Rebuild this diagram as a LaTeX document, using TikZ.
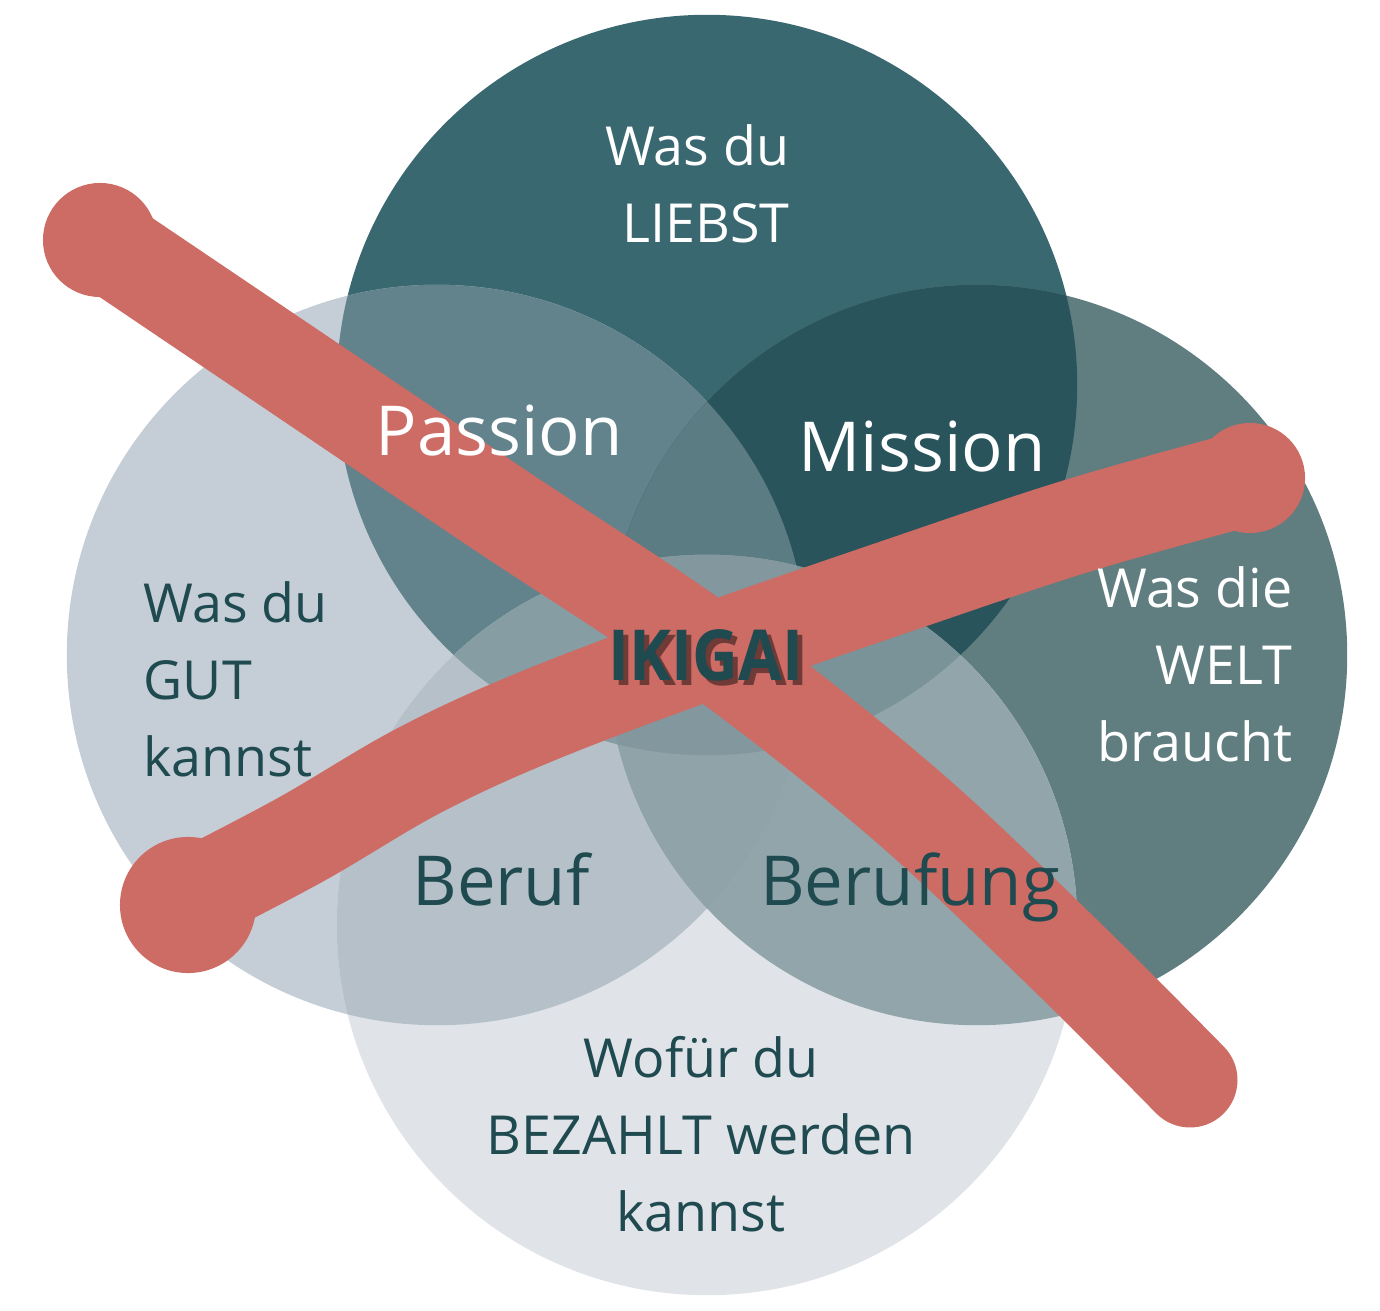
\documentclass[tikz,border=0pt]{standalone}
\usepackage{fontspec}
\setmainfont{Open Sans}
\usepackage{tikz}
\definecolor{textdark}{HTML}{1F4A50}
\definecolor{brushred}{HTML}{CD6B65}
\definecolor{colT}{HTML}{3A6870}
\definecolor{colL}{HTML}{C5CED6}
\definecolor{colR}{HTML}{607E80}
\definecolor{colB}{HTML}{E0E3E8}
\definecolor{colTL}{HTML}{62838C}
\definecolor{colTR}{HTML}{2A545C}
\definecolor{colLB}{HTML}{B5C0C8}
\definecolor{colRB}{HTML}{91A5AA}
\definecolor{colTLR}{HTML}{5A7C82}
\definecolor{colTLB}{HTML}{869DA4}
\definecolor{colTRB}{HTML}{7A9398}
\definecolor{colLRB}{HTML}{8FA3A8}
\definecolor{colAll}{HTML}{82989E}
\tikzstyle{lbl}=[inner sep=0pt, font=\fontsize{15.3}{21.9}\selectfont]
\tikzstyle{darklbl}=[lbl, text=textdark]
\tikzstyle{lightlbl}=[lbl, text=white]
\tikzstyle{bigdark}=[inner sep=0pt, text=textdark, font=\fontsize{19.6}{24}\selectfont]
\tikzstyle{biglight}=[bigdark, text=white]
\tikzstyle{heading}=[inner sep=0pt, anchor=base, xscale=0.9, transform shape, font=\fontsize{20}{24}\selectfont\bfseries]
\tikzstyle{brush}=[draw=brushred, line width=27pt, line cap=round, line join=round]
\newcommand{\circT}{(707,385) circle[radius=3.7cm]}
\newcommand{\circL}{(437,655) circle[radius=3.7cm]}
\newcommand{\circR}{(977,655) circle[radius=3.7cm]}
\newcommand{\circB}{(707,925) circle[radius=3.7cm]}

\begin{document}
\begin{tikzpicture}[x=0.01cm, y=-0.01cm]
        \useasboundingbox (0,0) rectangle (1380,1310);
        % circles
        \fill[colT] \circT;
        \fill[colL] \circL;
        \fill[colR] \circR;
        \fill[colB] \circB;
        \begin{scope}
            \clip \circT;
            \fill[colTL] \circL;
            \fill[colTR] \circR;
        \end{scope}
        \begin{scope}
            \clip \circB;
            \fill[colLB] \circL;
            \fill[colRB] \circR;
        \end{scope}
        \begin{scope}
            \clip \circT; \clip \circL;
            \fill[colTLR] \circR;
            \fill[colTLB] \circB;
        \end{scope}
        \begin{scope}
            \clip \circT; \clip \circR;
            \fill[colTRB] \circB;
        \end{scope}
        \begin{scope}
            \clip \circL; \clip \circR;
            \fill[colLRB] \circB;
        \end{scope}
        \begin{scope}
            \clip \circT; \clip \circL; \clip \circR;
            \fill[colAll] \circB;
        \end{scope}
        % the red cross
        \draw[brush] plot[smooth, tension=0.6] coordinates {(100,240) (300,375) (500,510) (707,648) (900,800) (1060,950) (1190,1080)};
        \draw[brush] plot[smooth, tension=0.6] coordinates {(1248,478) (1080,525) (900,585) (707,652) (540,715) (420,770) (300,840) (185,900)};
        \fill[brushred] (100,240) circle[radius=0.57cm];
        \fill[brushred] (1250,478) circle[radius=0.55cm];
        \fill[brushred] (188,905) circle[radius=0.68cm];
        % labels
        \node[lightlbl, align=right, anchor=south east] (liebst) at (790,244) {Was du\\LIEBST};
        \node[darklbl, align=left, anchor=south west] (gut) at (143,778) {Was du\\GUT\\kannst};
        \node[lightlbl, align=right, anchor=south east] (welt) at (1293,763) {Was die\\WELT\\braucht};
        \node[darklbl, align=center, anchor=south] (bezahlt) at (701,1233) {Wofür du\\BEZAHLT werden\\kannst};
        \node[biglight, anchor=base] (passion) at (499,456) {Passion};
        \node[biglight, anchor=base] (mission) at (922,472) {Mission};
        \node[bigdark, anchor=base] (beruf) at (501,905) {Beruf};
        \node[bigdark, anchor=base] (berufung) at (910,905) {Berufung};
        \node[heading, text=black, opacity=0.45] (ikigaishadow) at (711,685) {IKIGAI};
        \node[heading, text=textdark] (ikigai) at (706,680) {IKIGAI};
    \end{tikzpicture}
\end{document}
